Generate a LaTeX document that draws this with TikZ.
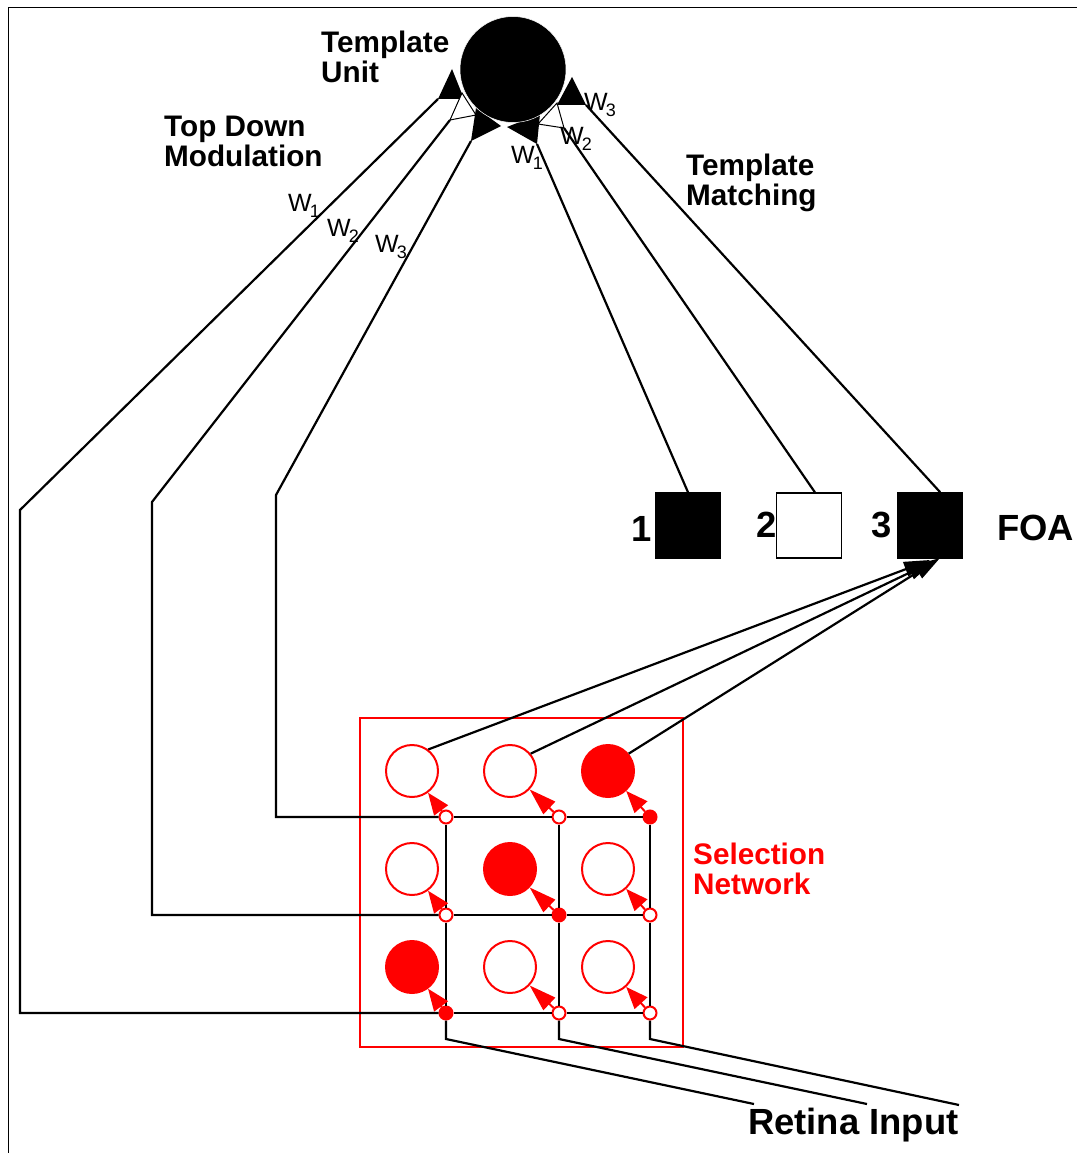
\documentclass[tikz,border=0pt]{standalone}
\usepackage{fontspec}
\setmainfont{Liberation Sans}
\usetikzlibrary{arrows.meta}
\tikzstyle{unit} = [
    circle,
    inner sep=0pt,
    minimum size=52pt,
    draw=red,
    line width=2pt
]
\tikzstyle{offcell} = [unit, fill=white]
\tikzstyle{oncell} = [unit, fill=red]
\tikzstyle{offjunction} = [
    circle,
    inner sep=0pt,
    minimum size=13pt,
    draw=red,
    line width=2pt,
    fill=white
]
\tikzstyle{onjunction} = [offjunction, fill=red]
\tikzstyle{foabox} = [
    rectangle,
    inner sep=0pt,
    minimum size=65pt,
    draw=black,
    line width=1.5pt
]
\tikzstyle{heading} = [
    align=left,
    anchor=west,
    inner sep=0pt,
    font=\fontsize{29.7}{30}\selectfont\bfseries
]
\tikzstyle{bigheading} = [
    heading,
    font=\fontsize{36.4}{38}\selectfont\bfseries
]
\tikzstyle{weight} = [
    inner sep=0pt,
    font=\fontsize{25}{28}\selectfont
]
\tikzstyle{wire} = [line width=2.2pt]
\tikzstyle{thinwire} = [line width=1pt]
\tikzstyle{head} = [fill=black]
\tikzstyle{openhead} = [thinwire, fill=white]
\tikzstyle{arrow} = [wire,-{Triangle[length=26pt,width=15pt]}]
\tikzstyle{redarrow} = [line width=2pt,red,-{Triangle[length=22pt,width=17pt]}]
\tikzstyle{redarrowlong} = [line width=2pt,red,-{Triangle[length=27pt,width=17pt]}]
\newcommand{\wsub}[1]{W\kern-2pt\raisebox{-6pt}{\fontsize{18}{18}\selectfont #1}}

\begin{document}
\begin{tikzpicture}[x=1pt,y=-1pt,node distance=98pt]

\useasboundingbox (0,0) rectangle (1077,1153);

\draw [line width=1.5pt] (8.5,1153) -- (8.5,7.5) -- (1077,7.5);

\draw [red, line width=2pt] (360,718) rectangle (683,1047);

\node (cell11) [offcell] at (412,771) {};
\node (cell12) [offcell, right of=cell11] {};
\node (cell13) [oncell, right of=cell12] {};
\node (cell21) [offcell, below of=cell11] {};
\node (cell22) [oncell, right of=cell21] {};
\node (cell23) [offcell, right of=cell22] {};
\node (cell31) [oncell, below of=cell21] {};
\node (cell32) [offcell, right of=cell31] {};
\node (cell33) [offcell, right of=cell32] {};

\node (junc11) [offjunction] at (446,817) {};
\node (junc12) [offjunction] at (559,817) {};
\node (junc13) [onjunction] at (650,817) {};
\node (junc21) [offjunction] at (446,915) {};
\node (junc22) [onjunction] at (559,915) {};
\node (junc23) [offjunction] at (650,915) {};
\node (junc31) [onjunction] at (446,1013) {};
\node (junc32) [offjunction] at (559,1013) {};
\node (junc33) [offjunction] at (650,1013) {};

\node (foa1) [foabox, fill=black] at (688,525.5) {};
\node (foa2) [foabox, fill=white] at (809,525.5) {};
\node (foa3) [foabox, fill=black] at (930,525.5) {};

\coordinate (rowturn1) at (276,817);
\coordinate (rowbend1) at (276,495);
\coordinate (rowturn2) at (152,915);
\coordinate (rowbend2) at (152,502);
\coordinate (rowturn3) at (20,1013);
\coordinate (rowbend3) at (20,510);

\coordinate (lefttip1) at (452,69);
\coordinate (leftbase1) at (438,99);
\coordinate (leftcorner1) at (464,99);
\coordinate (lefttip2) at (462,93);
\coordinate (leftbase2) at (450,120);
\coordinate (leftcorner2) at (476,115);
\coordinate (lefttip3) at (501,126);
\coordinate (leftbase3) at (471,141);
\coordinate (leftcorner3) at (476,108);

\coordinate (righttip1) at (507,127);
\coordinate (rightbase1) at (537,144);
\coordinate (rightcorner1) at (540,114);
\coordinate (righttip2) at (557,103);
\coordinate (rightbase2) at (564,128);
\coordinate (rightcorner2) at (538,124);
\coordinate (righttip3) at (572,77);
\coordinate (rightbase3) at (586,105);
\coordinate (rightcorner3) at (557,105);

\coordinate (retina1) at (446,1039);
\coordinate (retinaend1) at (754,1104);
\coordinate (retina2) at (559,1039);
\coordinate (retinaend2) at (867,1104);
\coordinate (retina3) at (650,1039);
\coordinate (retinaend3) at (959,1105);

\coordinate (foatip1) at (930,560);
\coordinate (foatip2) at (934,561);
\coordinate (foatip3) at (940,558);

\fill [head] (lefttip1) -- (leftbase1) -- (leftcorner1) -- cycle;
\draw [openhead] (lefttip2) -- (leftbase2) -- (leftcorner2) -- cycle;
\fill [head] (lefttip3) -- (leftbase3) -- (leftcorner3) -- cycle;
\fill [head] (righttip1) -- (rightbase1) -- (rightcorner1) -- cycle;
\draw [openhead] (righttip2) -- (rightbase2) -- (rightcorner2) -- cycle;
\fill [head] (righttip3) -- (rightbase3) -- (rightcorner3) -- cycle;

\node (template) [circle, inner sep=0pt, minimum size=106pt, fill=black, draw=white, line width=0.5pt] at (513,69.5) {};

\draw [wire] (junc11) -- (rowturn1) -- (rowbend1) -- (leftbase3);
\draw [wire] (junc21) -- (rowturn2) -- (rowbend2) -- (leftbase2);
\draw [wire] (junc31) -- (rowturn3) -- (rowbend3) -- (leftbase1);

\draw [wire] (junc11) -- (junc12);
\draw [wire] (junc12) -- (junc13);
\draw [wire] (junc21) -- (junc22);
\draw [wire] (junc22) -- (junc23);
\draw [wire] (junc31) -- (junc32);
\draw [wire] (junc32) -- (junc33);

\draw [wire] (junc11) -- (junc21);
\draw [wire] (junc21) -- (junc31);
\draw [wire] (junc31) -- (retina1) -- (retinaend1);
\draw [wire] (junc12) -- (junc22);
\draw [wire] (junc22) -- (junc32);
\draw [wire] (junc32) -- (retina2) -- (retinaend2);
\draw [wire] (junc13) -- (junc23);
\draw [wire] (junc23) -- (junc33);
\draw [wire] (junc33) -- (retina3) -- (retinaend3);

\draw [wire] (foa1.north) -- (rightbase1);
\draw [wire] (foa2.80) -- (rightbase2);
\draw [wire] (foa3.73) -- (rightbase3);

\draw [arrow] (cell11.53) -- (foatip1);
\draw [arrow] (cell12.40) -- (foatip2);
\draw [arrow] (cell13.40) -- (foatip3);

\draw [redarrow] (junc11) -- (cell11);
\draw [redarrowlong] (junc12) -- (cell12);
\draw [redarrow] (junc13) -- (cell13);
\draw [redarrow] (junc21) -- (cell21);
\draw [redarrowlong] (junc22) -- (cell22);
\draw [redarrow] (junc23) -- (cell23);
\draw [redarrow] (junc31) -- (cell31);
\draw [redarrowlong] (junc32) -- (cell32);
\draw [redarrow] (junc33) -- (cell33);

\node (unitlabel) [heading] at (321,56.5) {Template\\Unit};
\node (modlabel) [heading] at (164,141.5) {Top Down\\Modulation};
\node (matchlabel) [heading] at (686,183) {Template\\Matching};
\node (selectlabel) [heading, red] at (693,869) {Selection\\Network};
\node (foalabel) [bigheading] at (997,528) {FOA};
\node (retinalabel) [bigheading] at (748,1125) {Retina Input};
\node (num1) [bigheading] at (631,529) {1};
\node (num2) [bigheading] at (756,525) {2};
\node (num3) [bigheading] at (871,525) {3};

\node (w1left) [weight] at (304,205.5) {\wsub{1}};
\node (w2left) [weight] at (343,231) {\wsub{2}};
\node (w3left) [weight] at (391,247) {\wsub{3}};
\node (w1right) [weight] at (527,158) {\wsub{1}};
\node (w2right) [weight] at (576,139) {\wsub{2}};
\node (w3right) [weight] at (600,104.5) {\wsub{3}};

\end{tikzpicture}
\end{document}
